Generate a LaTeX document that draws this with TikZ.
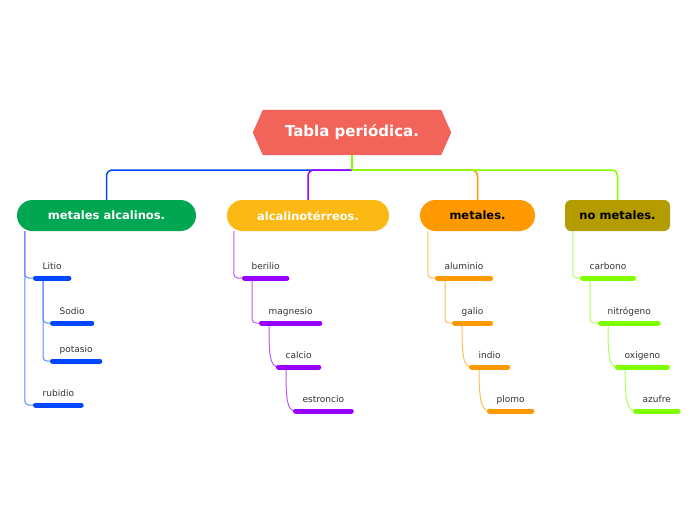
\documentclass[tikz,border=0pt]{standalone}
\usepackage{fontspec}
\setmainfont{DejaVu Sans}
\usetikzlibrary{backgrounds}
\definecolor{ctitle}{HTML}{F2645A}
\definecolor{cgreen}{HTML}{00A651}
\definecolor{camber}{HTML}{FDB913}
\definecolor{corange}{HTML}{FF9900}
\definecolor{colive}{HTML}{B39B00}
\definecolor{cblue}{HTML}{0047FF}
\definecolor{cpurple}{HTML}{9900FF}
\definecolor{clime}{HTML}{80FF00}
\definecolor{ctext}{HTML}{333333}
\tikzset{
  every picture/.style={x=1pt, y=-1pt},
  topic/.style={fill=#1, rounded corners=15.5pt, minimum height=31pt, inner sep=0pt, text=white, font=\fontsize{11.5}{13}\selectfont\bfseries},
  leaf/.style={anchor=south west, inner xsep=7pt, inner ysep=6pt, text height=7pt, text depth=2pt, text=ctext, font=\fontsize{9}{10}\selectfont},
  bar/.style={draw=#1, line width=5pt, line cap=round},
  join/.style={draw=#1, line width=1.5pt, rounded corners=6pt},
  link/.style={draw=#1!65, line width=1pt, rounded corners=4pt},
}

\begin{document}
\begin{tikzpicture}
  \useasboundingbox (0,0) rectangle (696,520);
  \node[minimum width=198pt, minimum height=45pt, inner sep=0pt, text=white, font=\fontsize{15}{18}\selectfont\bfseries] (root) at (352,132.5) {Tabla periódica.};
  \begin{scope}[on background layer]
    \fill[ctitle] (root.west) -- ([xshift=10pt]root.north west) -- ([xshift=-10pt]root.north east) -- (root.east)
      -- ([xshift=-10pt]root.south east) -- ([xshift=10pt]root.south west) -- cycle;
  \end{scope}
  \node[topic=cgreen, minimum width=179pt] (alk) at (106.5,215.5) {metales alcalinos.};
  \node[topic=camber, minimum width=162pt] (ter) at (308,215.5) {alcalinotérreos.};
  \node[topic=corange, minimum width=115pt, text=black] (met) at (477.5,215.5) {metales.};
  \node[topic=colive, minimum width=105pt, text=black, rounded corners=6pt] (nom) at (617.5,215.5) {no metales.};
  \coordinate (hub) at (352,170);
  \draw[join=cblue] (hub) -| (alk.north);
  \draw[join=cpurple] (hub) -| (ter.north);
  \draw[join=corange] (hub) -| (met.north);
  \draw[join=clime] (root.south) -- (hub);
  \draw[join=clime] (hub) -| (nom.north);
  % leaves with their bars
  \foreach \n/\x/\y/\c/\t in {li/35.5/278/cblue/Litio, so/52.5/323/cblue/Sodio, po/52.5/361/cblue/potasio, rb/35.5/405/cblue/rubidio,
      be/244.5/278/cpurple/berilio, mg/261.5/323/cpurple/magnesio, ca/278.5/367/cpurple/calcio, es/295.5/411/cpurple/estroncio,
      al/437.5/278/corange/aluminio, ga/454.5/323/corange/galio, in/471.5/367/corange/indio, pl/489.5/411/corange/plomo,
      cb/582.5/278/clime/carbono, ni/600.5/323/clime/nitrógeno, ox/617.5/367/clime/oxigeno, az/635.5/411/clime/azufre} {
    \node[leaf] (\n) at (\x,\y) {\t};
    \draw[bar=\c] (\n.south west) -- (\n.south east);
  }
  \begin{scope}[on background layer]
    \draw[link=cblue] ([xshift=8pt]alk.south west) |- (li.south west);
    \draw[link=cblue] ([xshift=8pt]alk.south west) |- (rb.south west);
    \draw[link=cblue] ([xshift=7.5pt]li.south west) |- (so.south west);
    \draw[link=cblue] ([xshift=7.5pt]li.south west) |- (po.south west);
    \draw[link=cpurple] ([xshift=7pt]ter.south west) |- (be.south west);
    \draw[link=cpurple] ([xshift=7.5pt]be.south west) |- (mg.south west);
    \draw[link=cpurple] ([xshift=7.5pt]mg.south west) .. controls +(0,30) and +(-9,0) .. (ca.south west);
    \draw[link=cpurple] ([xshift=7.5pt]ca.south west) .. controls +(0,30) and +(-9,0) .. (es.south west);
    \draw[link=corange] ([xshift=8pt]met.south west) |- (al.south west);
    \draw[link=corange] ([xshift=7.5pt]al.south west) |- (ga.south west);
    \draw[link=corange] ([xshift=7.5pt]ga.south west) .. controls +(0,30) and +(-9,0) .. (in.south west);
    \draw[link=corange] ([xshift=7.5pt]in.south west) .. controls +(0,30) and +(-9,0) .. (pl.south west);
    \draw[link=clime] ([xshift=8pt]nom.south west) |- (cb.south west);
    \draw[link=clime] ([xshift=7.5pt]cb.south west) |- (ni.south west);
    \draw[link=clime] ([xshift=7.5pt]ni.south west) .. controls +(0,30) and +(-9,0) .. (ox.south west);
    \draw[link=clime] ([xshift=7.5pt]ox.south west) .. controls +(0,30) and +(-9,0) .. (az.south west);
  \end{scope}
\end{tikzpicture}
\end{document}
